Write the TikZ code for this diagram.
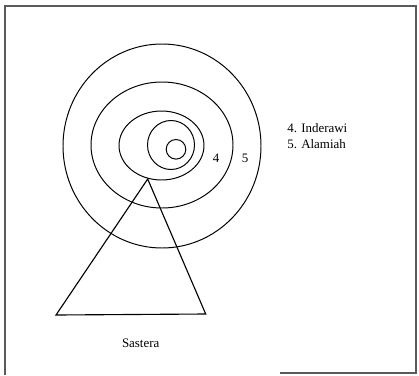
\documentclass[tikz,border=0pt]{standalone}
\usepackage{fontspec}
\setmainfont{Liberation Serif}
\usetikzlibrary{calc}
\definecolor{frameline}{RGB}{90,90,90}
\tikzset{
  ring/.style      = {draw, line width=0.7pt},
  sastera/.style   = {draw, line width=0.8pt, line join=miter},
  frame/.style     = {draw=frameline, line width=0.8pt},
  lbl/.style       = {font=\fontsize{9.2}{11}\selectfont, inner sep=0pt},
}

\begin{document}
\begin{tikzpicture}[x=0.025cm, y=-0.025cm]

  % ── fixed canvas, same as the scanned page ──
  \useasboundingbox (0,0) rectangle (419,375);

  % ──────────────────────────────────────────────
  %  FRAME (bottom edge only partly visible in the scan)
  % ──────────────────────────────────────────────
  \draw[frame] (5,375) -- (5,6) -- (416,6) -- (416,373) -- (280,373);

  % ══════════════════════════════════════════════
  %  RINGS
  % ══════════════════════════════════════════════
  \draw[ring] (162,146) ellipse (99 and 102);   % 5
  \draw[ring] (162,145) ellipse (71 and 63);    % 4
  \draw[ring] (161.5,145.5) ellipse (42.5 and 34.5);
  \draw[ring] (171,145) ellipse (23.5 and 24.5);
  \draw[ring] (176,149.3) circle (9.8);

  % ring numbers
  \node[lbl] (n4) at (216,158) {4};
  \node[lbl] (n5) at (245,158) {5};

  % ══════════════════════════════════════════════
  %  TRIANGLE
  % ══════════════════════════════════════════════
  \draw[sastera] (147.7,179) -- (205.7,314) -- (56,315) -- cycle;

  % labels
  \node[lbl] (sastera) at (140.7,343) {Sastera};
  \node[lbl, anchor=west] (inderawi) at (287,128) {4. Inderawi};
  \node[lbl, anchor=west] (alamiah)  at (287,144) {5. Alamiah};

\end{tikzpicture}
\end{document}
